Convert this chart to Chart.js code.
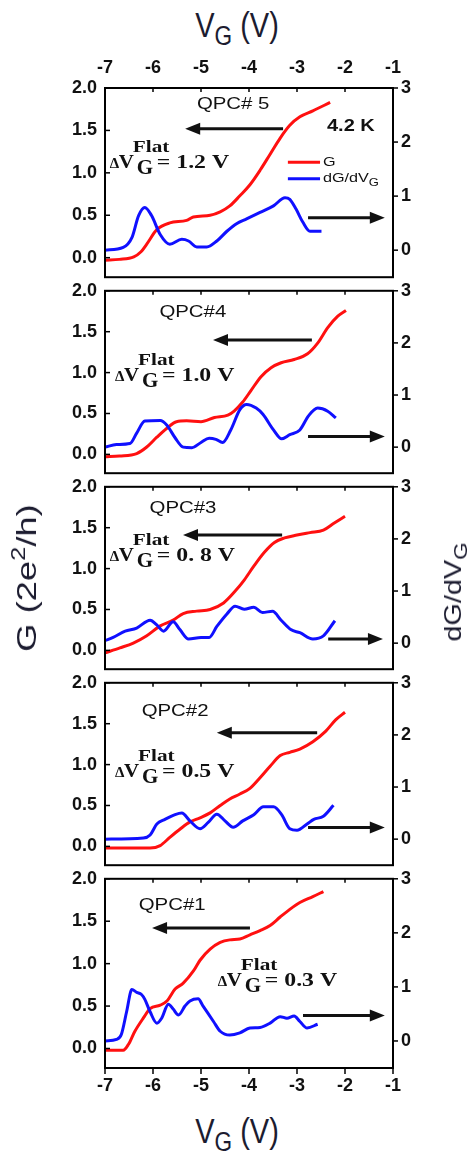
<!DOCTYPE html>
<html>
<head>
<meta charset="utf-8">
<script src="https://cdn.jsdelivr.net/npm/chart.js@4.4.1/dist/chart.umd.min.js"></script>
<style>
  body { margin: 0; background: #fff; width: 474px; height: 1152px; position: relative; overflow: hidden;
         font-family: "Liberation Sans", Arial, sans-serif; }
  canvas { position: absolute; left: 0; }
  .title { position: absolute; color: #1c1c30; white-space: nowrap; line-height: 1; }
  .title sub { font-size: 0.78em; vertical-align: -0.32em; line-height: 0; }
  .title sup { font-size: 0.7em; vertical-align: 0.55em; line-height: 0; }
</style>
</head>
<body>
<div class="title" style="left:237px;top:25px;font-size:29px;transform:translate(-50%,-50%) scaleY(1.22)">V<sub>G</sub> (V)</div>
<div class="title" style="left:237px;top:1131px;font-size:29px;transform:translate(-50%,-50%) scaleY(1.22)">V<sub>G</sub> (V)</div>
<div id="panels"></div>
<div class="title" style="left:27px;top:578px;font-size:28px;transform:translate(-50%,-50%) rotate(-90deg) scaleX(1.3)">G (2e<sup>2</sup>/h)</div>
<div class="title" style="left:453px;top:592px;font-size:24px;transform:translate(-50%,-50%) rotate(-90deg) scaleX(1.2)">dG/dV<sub>G</sub></div>

<script>
// tick labels
const vTicks = [-7, -6, -5, -4, -3, -2, -1];
const gTicks = [0, 0.5, 1, 1.5, 2];
const dTicks = [0, 1, 2, 3];

// QPC#5 (top panel)
const q5gV = [-7, -6.7, -6.4, -6.25, -6.13, -5.92, -5.65, -5.30, -5.16, -4.81, -4.6, -4.40, -4.19, -3.98, -3.77, -3.56, -3.35, -3.15, -2.94, -2.67, -2.31];
const q5g  = [-0.03, -0.02, 0.01, 0.07, 0.16, 0.33, 0.41, 0.44, 0.48, 0.50, 0.54, 0.61, 0.73, 0.86, 1.03, 1.22, 1.41, 1.56, 1.66, 1.73, 1.83];
const q5dV = [-7, -6.62, -6.44, -6.30, -6.17, -6.03, -5.85, -5.65, -5.40, -5.26, -5.09, -4.88, -4.67, -4.46, -4.26, -4.05, -3.77, -3.49, -3.25, -3.15, -3.02, -2.88, -2.73, -2.49];
const q5d  = [0.0, 0.05, 0.23, 0.64, 0.79, 0.64, 0.29, 0.11, 0.20, 0.17, 0.06, 0.06, 0.17, 0.35, 0.49, 0.58, 0.70, 0.82, 0.97, 0.94, 0.76, 0.52, 0.35, 0.35];

// QPC#4
const q4gV = [-7, -6.7, -6.34, -6.13, -5.92, -5.71, -5.51, -5.30, -5.0, -4.72, -4.44, -4.31, -4.13, -3.96, -3.75, -3.54, -3.33, -3.06, -2.78, -2.57, -2.36, -2.15, -1.98];
const q4g  = [-0.03, -0.02, 0.01, 0.09, 0.21, 0.32, 0.40, 0.41, 0.40, 0.45, 0.48, 0.53, 0.64, 0.78, 0.95, 1.06, 1.12, 1.16, 1.23, 1.36, 1.55, 1.69, 1.76];
const q4dV = [-7, -6.76, -6.48, -6.34, -6.17, -5.85, -5.71, -5.54, -5.37, -5.19, -5.0, -4.83, -4.69, -4.55, -4.38, -4.19, -4.05, -3.85, -3.71, -3.49, -3.32, -3.15, -2.94, -2.76, -2.57, -2.36, -2.19];
const q4d  = [0.0, 0.05, 0.07, 0.27, 0.50, 0.51, 0.42, 0.18, 0.0, -0.01, 0.09, 0.17, 0.15, 0.09, 0.33, 0.72, 0.82, 0.75, 0.63, 0.33, 0.16, 0.24, 0.33, 0.60, 0.75, 0.69, 0.56];

// QPC#3
const q3gV = [-7, -6.69, -6.41, -6.13, -5.85, -5.58, -5.37, -5.09, -4.81, -4.53, -4.31, -4.1, -3.9, -3.68, -3.47, -3.26, -3.0, -2.73, -2.45, -2.24, -2.0];
const q3g  = [-0.03, 0.03, 0.09, 0.18, 0.30, 0.37, 0.45, 0.48, 0.50, 0.58, 0.71, 0.86, 1.03, 1.20, 1.32, 1.375, 1.41, 1.44, 1.47, 1.55, 1.64];
const q3dV = [-7, -6.83, -6.58, -6.34, -6.06, -5.92, -5.78, -5.58, -5.44, -5.26, -5.0, -4.83, -4.67, -4.46, -4.29, -4.1, -3.9, -3.72, -3.51, -3.33, -3.13, -2.94, -2.67, -2.45, -2.21];
const q3d  = [0.05, 0.11, 0.23, 0.29, 0.44, 0.35, 0.23, 0.41, 0.26, 0.08, 0.11, 0.11, 0.32, 0.56, 0.71, 0.65, 0.69, 0.59, 0.61, 0.44, 0.26, 0.20, 0.08, 0.14, 0.43];

// QPC#2
const q2gV = [-7, -6.06, -5.85, -5.65, -5.44, -5.23, -5.02, -4.81, -4.6, -4.4, -4.19, -3.98, -3.77, -3.56, -3.35, -3.15, -2.94, -2.67, -2.4, -2.19, -2.0];
const q2g  = [-0.02, -0.02, 0.01, 0.11, 0.21, 0.30, 0.35, 0.41, 0.50, 0.58, 0.64, 0.71, 0.84, 0.98, 1.11, 1.15, 1.19, 1.28, 1.41, 1.55, 1.64];
const q2dV = [-7, -6.2, -6.06, -5.92, -5.75, -5.54, -5.40, -5.23, -5.02, -4.85, -4.67, -4.5, -4.33, -4.13, -3.9, -3.7, -3.49, -3.32, -3.15, -3.0, -2.79, -2.65, -2.45, -2.24];
const q2d  = [0.0, 0.02, 0.08, 0.29, 0.38, 0.47, 0.50, 0.35, 0.20, 0.32, 0.48, 0.35, 0.23, 0.35, 0.47, 0.62, 0.62, 0.47, 0.20, 0.17, 0.29, 0.38, 0.44, 0.65];

// QPC#1 (bottom panel)
const q1gV = [-7, -6.62, -6.51, -6.38, -6.2, -6.06, -5.85, -5.71, -5.54, -5.37, -5.15, -5.02, -4.81, -4.6, -4.4, -4.19, -3.98, -3.77, -3.56, -3.35, -3.15, -2.94, -2.67, -2.45];
const q1g  = [-0.02, -0.02, 0.05, 0.20, 0.36, 0.47, 0.51, 0.56, 0.70, 0.77, 0.92, 1.04, 1.17, 1.25, 1.28, 1.29, 1.34, 1.39, 1.45, 1.55, 1.64, 1.72, 1.79, 1.85];
const q1dV = [-7, -6.76, -6.66, -6.55, -6.44, -6.34, -6.24, -6.17, -6.06, -5.92, -5.82, -5.68, -5.58, -5.47, -5.33, -5.23, -5.06, -4.96, -4.74, -4.6, -4.4, -4.19, -3.98, -3.77, -3.56, -3.35, -3.21, -3.06, -2.94, -2.79, -2.57];
const q1d  = [0.0, 0.03, 0.12, 0.54, 0.95, 0.90, 0.86, 0.77, 0.54, 0.33, 0.42, 0.68, 0.59, 0.48, 0.65, 0.74, 0.78, 0.65, 0.36, 0.18, 0.11, 0.15, 0.24, 0.25, 0.33, 0.45, 0.42, 0.46, 0.36, 0.24, 0.31];

// panel text + arrows, placed in (V, G) units
const panels = [
  { name: 'QPC# 5', gV: q5gV, g: q5g, dV: q5dV, d: q5d, nameAt: [-4.33, 1.81], flat: '1.2 V', flatAt: [-6.9, 1.057],
    left: [-3.29, -5.33, 1.52], right: [-2.77, -1.17, 0.47], legend: true },
  { name: 'QPC#4', gV: q4gV, g: q4g, dV: q4dV, d: q4d, nameAt: [-5.17, 1.74], flat: '1.0 V', flatAt: [-6.79, 0.90],
    left: [-2.69, -4.75, 1.40], right: [-2.77, -1.17, 0.22] },
  { name: 'QPC#3', gV: q3gV, g: q3g, dV: q3dV, d: q3d, nameAt: [-5.375, 1.74], flat: '0. 8 V', flatAt: [-6.9, 1.09],
    left: [-3.31, -5.375, 1.41], right: [-2.35, -1.21, 0.14] },
  { name: 'QPC#2', gV: q2gV, g: q2g, dV: q2dV, d: q2d, nameAt: [-5.54, 1.65], flat: '0.5 V', flatAt: [-6.79, 0.85],
    left: [-2.58, -4.67, 1.39], right: [-2.77, -1.17, 0.23] },
  { name: 'QPC#1', gV: q1gV, g: q1g, dV: q1dV, d: q1d, nameAt: [-5.6, 1.69], flat: '0.3 V', flatAt: [-4.65, 0.74],
    left: [-3.98, -6.02, 1.42], right: [-2.875, -1.17, 0.39] }
];

const RED = '#ff1010', BLUE = '#1010ff';
const PANEL_TOPS = [88, 284, 480, 676, 872];
const PANEL_H = 196, PAD = 12, AXIS_H = 36;

Chart.defaults.font.family = '"Liberation Sans", Arial, sans-serif';
Chart.defaults.font.size = 18;
Chart.defaults.font.weight = 'bold';
Chart.defaults.color = '#111';

const pts = (xs, ys) => xs.map((x, i) => ({ x: x, y: ys[i] }));

function stretchText(ctx, text, x, y, sx) {
  ctx.save();
  ctx.translate(x, y);
  ctx.scale(sx, 1);
  ctx.fillText(text, 0, 0);
  ctx.restore();
}

function arrow(ctx, x1, x2, y) {
  const dir = x2 > x1 ? 1 : -1;
  ctx.beginPath();
  ctx.moveTo(x1, y);
  ctx.lineTo(x2 - dir * 12, y);
  ctx.lineWidth = 3;
  ctx.stroke();
  ctx.beginPath();
  ctx.moveTo(x2, y);
  ctx.lineTo(x2 - dir * 15, y - 6);
  ctx.lineTo(x2 - dir * 15, y + 6);
  ctx.closePath();
  ctx.fill();
}

const framePlugin = {
  id: 'frame',
  afterDraw(chart) {
    const { ctx, chartArea: ca, scales } = chart;
    const line = (a, b, c, d) => { ctx.beginPath(); ctx.moveTo(a, b); ctx.lineTo(c, d); ctx.stroke(); };
    ctx.save();
    ctx.strokeStyle = '#000';
    ctx.lineWidth = 2;
    ctx.strokeRect(ca.left, ca.top, ca.right - ca.left, ca.bottom - ca.top);
    ctx.lineWidth = 1.5;
    gTicks.forEach(v => { const y = scales.y.getPixelForValue(v); line(ca.left, y, ca.left + 5, y); });
    dTicks.forEach(v => { const y = scales.y1.getPixelForValue(v); line(ca.right, y, ca.right + 5, y); });
    vTicks.forEach(v => {
      const x = scales.x.getPixelForValue(v);
      line(x, ca.top, x, ca.top + 4);
      if (chart.options.plugins.frame.bottomTicks) line(x, ca.bottom, x, ca.bottom + 6);
    });
    ctx.restore();
  }
};

const notePlugin = {
  id: 'notes',
  afterDatasetsDraw(chart) {
    const p = chart.options.plugins.notes.panel;
    const { ctx, scales } = chart;
    const X = v => scales.x.getPixelForValue(v), Y = v => scales.y.getPixelForValue(v);
    ctx.save();
    ctx.fillStyle = '#111';
    ctx.strokeStyle = '#111';
    ctx.textBaseline = 'middle';
    ctx.textAlign = 'left';

    ctx.font = '17px "Liberation Sans", Arial, sans-serif';
    const w = ctx.measureText(p.name).width * 1.2;
    stretchText(ctx, p.name, X(p.nameAt[0]) - w / 2, Y(p.nameAt[1]), 1.2);

    // ΔV_G^Flat = ...
    const x0 = X(p.flatAt[0]), y0 = Y(p.flatAt[1]);
    ctx.textBaseline = 'alphabetic';
    ctx.font = 'bold 15px "Liberation Serif", serif';
    ctx.fillText('Δ', x0, y0);
    ctx.font = 'bold 19px "Liberation Serif", serif';
    stretchText(ctx, 'V', x0 + 9, y0, 1.1);
    ctx.font = 'bold 17px "Liberation Serif", serif';
    stretchText(ctx, 'Flat', x0 + 23, y0 - 16, 1.25);
    ctx.font = 'bold 21px "Liberation Serif", serif';
    ctx.fillText('G', x0 + 27, y0 + 6);
    ctx.font = 'bold 19px "Liberation Serif", serif';
    stretchText(ctx, '= ' + p.flat, x0 + 47, y0, 1.25);

    arrow(ctx, X(p.left[0]), X(p.left[1]), Y(p.left[2]));
    arrow(ctx, X(p.right[0]), X(p.right[1]), Y(p.right[2]));

    if (p.legend) {
      ctx.textBaseline = 'middle';
      ctx.font = 'bold 16px "Liberation Sans", Arial, sans-serif';
      stretchText(ctx, '4.2 K', X(-2.375), Y(1.55), 1.25);
      ctx.lineWidth = 3;
      ctx.strokeStyle = RED;
      ctx.beginPath(); ctx.moveTo(X(-3.19), Y(1.125)); ctx.lineTo(X(-2.52), Y(1.125)); ctx.stroke();
      ctx.strokeStyle = BLUE;
      ctx.beginPath(); ctx.moveTo(X(-3.19), Y(0.93)); ctx.lineTo(X(-2.52), Y(0.93)); ctx.stroke();
      ctx.font = '12px "Liberation Sans", Arial, sans-serif';
      stretchText(ctx, 'G', X(-2.46), Y(1.125), 1.35);
      stretchText(ctx, 'dG/dV', X(-2.46), Y(0.93), 1.35);
      const tw = ctx.measureText('dG/dV').width * 1.35;
      ctx.font = '10px "Liberation Sans", Arial, sans-serif';
      stretchText(ctx, 'G', X(-2.46) + tw, Y(0.93) + 4, 1.3);
    }
    ctx.restore();
  }
};

const holder = document.getElementById('panels');
panels.forEach((p, i) => {
  const hasTop = i === 0, hasBottom = i === panels.length - 1;
  const top = PANEL_TOPS[i];
  const ct = top - PAD - (hasTop ? AXIS_H : 0);
  const ch = PAD + (hasTop ? AXIS_H : 0) + PANEL_H + (hasBottom ? AXIS_H : 0) + PAD;
  const cv = document.createElement('canvas');
  cv.width = 474; cv.height = ch;
  cv.style.top = ct + 'px';
  holder.appendChild(cv);

  new Chart(cv, {
    type: 'line',
    data: {
      datasets: [
        { label: 'G', data: pts(p.gV, p.g), borderColor: RED, yAxisID: 'y', order: 1 },
        { label: 'dG/dVG', data: pts(p.dV, p.d), borderColor: BLUE, yAxisID: 'y1', order: 0 }
      ]
    },
    options: {
      responsive: false,
      animation: false,
      devicePixelRatio: 1,
      layout: { padding: { top: PAD, bottom: PAD, left: 0, right: 0 } },
      elements: { point: { radius: 0 }, line: { borderWidth: 3, cubicInterpolationMode: 'monotone' } },
      plugins: {
        legend: { display: false },
        tooltip: { enabled: false },
        frame: { bottomTicks: hasBottom },
        notes: { panel: p }
      },
      scales: {
        x: {
          type: 'linear', min: -7, max: -1,
          position: hasTop ? 'top' : 'bottom',
          display: hasTop || hasBottom,
          afterBuildTicks: s => { s.ticks = vTicks.map(v => ({ value: v })); },
          afterFit: s => { s.height = (hasTop || hasBottom) ? AXIS_H : 0; },
          grid: { display: false, drawTicks: false },
          border: { display: false },
          ticks: { padding: hasTop ? 9 : 7, maxRotation: 0, callback: v => String(v) }
        },
        y: {
          position: 'left', min: -0.23, max: 2.0,
          afterBuildTicks: s => { s.ticks = gTicks.map(v => ({ value: v })); },
          afterFit: s => { s.width = 105; },
          grid: { display: false, drawTicks: false },
          border: { display: false },
          ticks: { padding: 8, callback: v => Number(v).toFixed(1) }
        },
        y1: {
          position: 'right', min: -0.5, max: 3,
          afterBuildTicks: s => { s.ticks = dTicks.map(v => ({ value: v })); },
          afterFit: s => { s.width = 81; },
          grid: { display: false, drawTicks: false },
          border: { display: false },
          ticks: { padding: 8, callback: v => String(v) }
        }
      }
    },
    plugins: [framePlugin, notePlugin]
  });
});
</script>
</body>
</html>
